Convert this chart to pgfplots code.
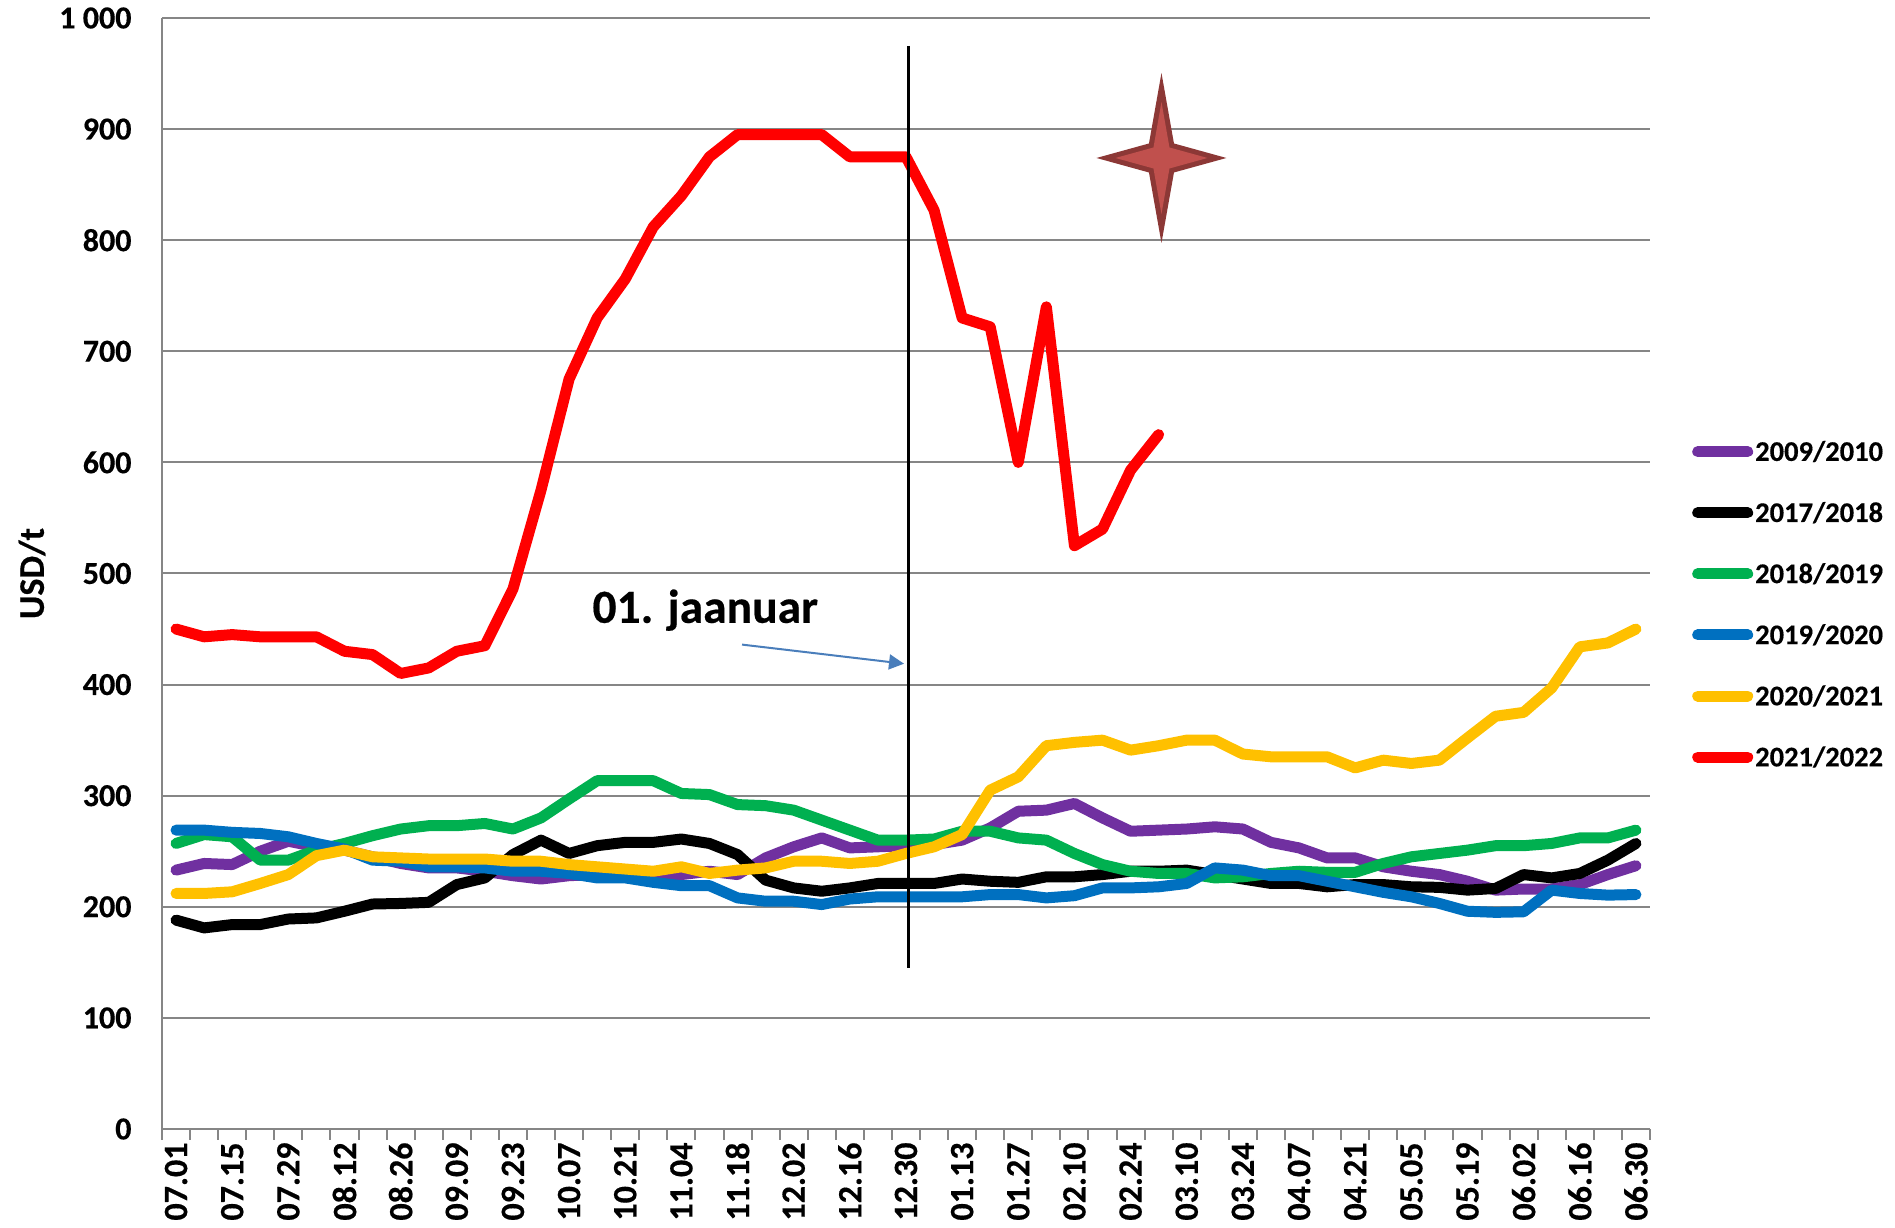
\documentclass[border=0pt]{standalone}
\usepackage{fontspec}
\setmainfont[BoldFeatures={FakeBold=0.4}]{Carlito}
\usepackage{pgfplots}
\usetikzlibrary{arrows.meta}
\pgfplotsset{compat=1.18}
\definecolor{cpurple}{HTML}{7030A0}
\definecolor{cgreen}{HTML}{00B050}
\definecolor{cblue}{HTML}{0070C0}
\definecolor{cyellow}{HTML}{FFC000}
\definecolor{cred}{HTML}{FF0000}
\definecolor{cgray}{HTML}{868686}
\definecolor{starfill}{HTML}{C0504D}
\definecolor{staredge}{HTML}{8C3836}
\definecolor{carrow}{HTML}{4A7EBB}
\pgfdeclareplotmark{fourstar}{%
  \pgfsetstrokecolor{staredge}\pgfsetfillcolor{staredge}%
  \pgfpathmoveto{\pgfqpoint{0pt}{85pt}}%
  \pgfpathlineto{\pgfqpoint{12.5pt}{14.5pt}}\pgfpathlineto{\pgfqpoint{65pt}{0pt}}%
  \pgfpathlineto{\pgfqpoint{12.5pt}{-14.5pt}}\pgfpathlineto{\pgfqpoint{0pt}{-85pt}}%
  \pgfpathlineto{\pgfqpoint{-12.5pt}{-14.5pt}}\pgfpathlineto{\pgfqpoint{-65pt}{0pt}}%
  \pgfpathlineto{\pgfqpoint{-12.5pt}{14.5pt}}\pgfpathclose\pgfusepathqfill
  \pgfsetfillcolor{starfill}%
  \pgfpathmoveto{\pgfqpoint{0pt}{56pt}}%
  \pgfpathlineto{\pgfqpoint{8pt}{10.5pt}}\pgfpathlineto{\pgfqpoint{46pt}{0pt}}%
  \pgfpathlineto{\pgfqpoint{8pt}{-10.5pt}}\pgfpathlineto{\pgfqpoint{0pt}{-56pt}}%
  \pgfpathlineto{\pgfqpoint{-8pt}{-10.5pt}}\pgfpathlineto{\pgfqpoint{-46pt}{0pt}}%
  \pgfpathlineto{\pgfqpoint{-8pt}{10.5pt}}\pgfpathclose\pgfusepathqfill
}
\pgfplotsset{series/.style={line width=11pt,line cap=round,line join=round,no markers,color=#1}}
\begin{document}
\begin{tikzpicture}[x=1pt,y=1pt]
\path[use as bounding box] (0,0) rectangle (1895,1228);
\begin{axis}[
  at={(162pt,99pt)},anchor=south west,
  scale only axis,width=1488pt,height=1111pt,
  xmin=-0.5,xmax=52.5,ymin=0,ymax=1000,
  axis x line*=bottom,axis y line*=left,
  axis line style={draw=cgray,line width=2pt,-},
  ymajorgrids,
  grid style={draw=cgray,line width=2pt},
  ytick={0,100,...,1000},
  yticklabels={0,100,200,300,400,500,600,700,800,900,1~000},
  xtick={0,2,...,52},
  xticklabels={07.01,07.15,07.29,08.12,08.26,09.09,09.23,10.07,10.21,11.04,11.18,12.02,12.16,12.30,01.13,01.27,02.10,02.24,03.10,03.24,04.07,04.21,05.05,05.19,06.02,06.16,06.30},
  minor xtick={-0.5,0.5,...,52.5},
  tick style={draw=cgray,line width=2pt},
  major x tick style={draw=none},
  major y tick style={draw=none},
  major tick length=11pt,
  minor tick length=11pt,
  tick align=outside,
  /pgf/number format/assume math mode=true,
  xticklabel style={rotate=90,anchor=east,font=\fontsize{34}{34}\selectfont\bfseries,xshift=1pt,yshift=0pt},
  yticklabel style={font=\fontsize{32}{32}\selectfont\bfseries,xshift=-16pt},
  ylabel={USD/t},
  ylabel style={font=\fontsize{36}{36}\selectfont\bfseries,at={(axis description cs:0,0.5)},anchor=south,yshift=113pt},
  clip=false,
  legend style={at={(1530pt,524.6pt)},anchor=west,draw=none,fill=none,
     font=\fontsize{28.5}{28.5}\selectfont\bfseries,row sep=35.6pt,inner sep=0pt,
     /tikz/every even column/.append style={column sep=0pt}},
  legend cell align=left,
  legend image code/.code={\draw[#1,line width=11pt,line cap=round] (0pt,0pt) -- (50pt,0pt);},
]
\addplot[series=cpurple] coordinates {(0,233)(1,239)(2,238)(3,250)(4,259)(5,254)(6,251)(7,245)(8,239)(9,235)(10,235)(11,232)(12,228)(13,225)(14,228)(15,229)(16,230)(17,229)(18,229)(19,232)(20,229)(21,244)(22,254)(23,262)(24,253)(25,254)(26,255)(27,256)(28,260)(29,271)(30,286)(31,287)(32,293)(33,280)(34,268)(35,269)(36,270)(37,272)(38,270)(39,258)(40,253)(41,244)(42,244)(43,236)(44,232)(45,229)(46,223)(47,215)(48,216)(49,216)(50,220)(51,229)(52,237)};
\addlegendentry{2009/2010}
\addplot[series=black] coordinates {(0,188)(1,181)(2,184)(3,184)(4,189)(5,190)(6,196)(7,202.5)(8,203)(9,204)(10,220)(11,226)(12,247)(13,260)(14,248)(15,255)(16,258)(17,258)(18,261)(19,257)(20,247)(21,224)(22,217)(23,214)(24,217)(25,221)(26,221)(27,221)(28,225)(29,223)(30,222)(31,227)(32,227)(33,229)(34,232)(35,232)(36,233)(37,229)(38,225)(39,221)(40,221)(41,218)(42,220)(43,220)(44,218)(45,217.5)(46,215)(47,216.5)(48,229)(49,226)(50,230)(51,242)(52,257)};
\addlegendentry{2017/2018}
\addplot[series=cgreen] coordinates {(0,257)(1,265)(2,263)(3,242)(4,242)(5,251)(6,257)(7,264)(8,270)(9,273)(10,273)(11,275)(12,270)(13,280)(14,297)(15,313.5)(16,313.5)(17,313.5)(18,302)(19,301)(20,292)(21,291)(22,287)(23,278)(24,269)(25,260)(26,260)(27,261)(28,268)(29,268)(30,262)(31,260)(32,248)(33,238)(34,232)(35,230)(36,230)(37,226)(38,227)(39,230)(40,232)(41,231)(42,231)(43,239)(44,245)(45,248)(46,251)(47,255)(48,255)(49,257)(50,262)(51,262)(52,269)};
\addlegendentry{2018/2019}
\addplot[series=cblue] coordinates {(0,269)(1,269)(2,267)(3,266)(4,263)(5,257)(6,252)(7,242)(8,241)(9,236)(10,236)(11,235)(12,232)(13,232)(14,230)(15,226)(16,226)(17,222)(18,219)(19,219)(20,208)(21,205)(22,205)(23,202)(24,207)(25,209)(26,209)(27,209)(28,209)(29,211)(30,211)(31,208)(32,210)(33,217)(34,217)(35,218)(36,221)(37,235)(38,233)(39,228)(40,228)(41,223)(42,218)(43,213)(44,209)(45,203)(46,196)(47,195)(48,195.5)(49,215)(50,212)(51,210.5)(52,211)};
\addlegendentry{2019/2020}
\addplot[series=cyellow] coordinates {(0,212)(1,212)(2,213.5)(3,221)(4,229)(5,246)(6,251)(7,245)(8,244)(9,243)(10,243)(11,243)(12,241)(13,241)(14,238)(15,236)(16,234)(17,232)(18,236)(19,230)(20,233)(21,235)(22,241)(23,241)(24,239)(25,241)(26,248)(27,254)(28,265)(29,305)(30,317)(31,345)(32,348)(33,350)(34,341)(35,345)(36,350)(37,350)(38,337.5)(39,335)(40,335)(41,335)(42,325)(43,332)(44,329)(45,332)(46,352)(47,371.5)(48,375)(49,397)(50,434)(51,437.5)(52,450)};
\addlegendentry{2020/2021}
\addplot[series=cred] coordinates {(0,450)(1,443)(2,445)(3,443)(4,443)(5,443)(6,430)(7,427)(8,410)(9,415)(10,430)(11,435)(12,486)(13,575)(14,675)(15,730)(16,765)(17,812)(18,840)(19,875)(20,895)(21,895)(22,895)(23,895)(24,875)(25,875)(26,875)(27,827)(28,730)(29,722)(30,600)(31,740)(32,525)(33,540)(34,593)(35,625)};
\addlegendentry{2021/2022}
\addplot[black,line width=2.7pt,no markers,forget plot] coordinates {(26.08,975)(26.08,145)};
\addplot[only marks,mark=fourstar,forget plot] coordinates {(35.1,874)};
\draw[-{Triangle[length=15pt,width=15pt]},draw=carrow,fill=carrow,line width=2pt] (axis cs:20.16,436) -- (axis cs:25.93,418.8);
\node[font=\fontsize{47.5}{47.5}\selectfont\bfseries] at (axis cs:18.85,467) {01. jaanuar};
\end{axis}
\end{tikzpicture}
\end{document}
